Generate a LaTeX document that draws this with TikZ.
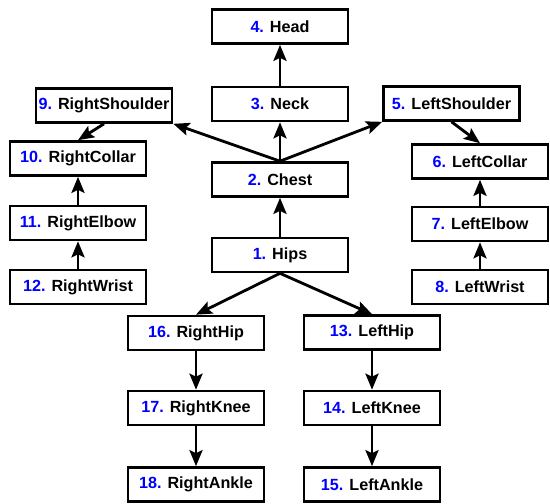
\documentclass[tikz,border=0pt]{standalone}
\usepackage{fontspec}
\setmainfont{Liberation Sans}
\usetikzlibrary{arrows.meta}
\newcommand{\jnum}[1]{\textcolor{blue}{#1}}

\begin{document}
\begin{tikzpicture}%
        \tikzstyle{joint}=[draw=black, line width=1.5pt, minimum width=2.72cm, minimum height=0.68cm, inner sep=0pt, font=\fontsize{9.2}{11}\selectfont\bfseries];%
        \tikzstyle{link}=[-{Stealth[length=0.32cm, width=0.26cm, inset=0.06cm]}, line width=1.6pt];%
        \useasboundingbox (0, 0) rectangle (11, -10.08);

        \node (head) at (5.60, -0.53) [joint] {\jnum{4.} Head};
        \node (neck) at (5.60, -2.08) [joint] {\jnum{3.} Neck};
        \node (chest) at (5.60, -3.59) [joint] {\jnum{2.} Chest};
        \node (hips) at (5.60, -5.10) [joint] {\jnum{1.} Hips};

        \node (rshoulder) at (2.08, -2.11) [joint] {\jnum{9.} RightShoulder};
        \node (rcollar) at (1.56, -3.17) [joint] {\jnum{10.} RightCollar};
        \node (relbow) at (1.56, -4.46) [joint] {\jnum{11.} RightElbow};
        \node (rwrist) at (1.56, -5.74) [joint] {\jnum{12.} RightWrist};

        \node (lshoulder) at (9.03, -2.07) [joint] {\jnum{5.} LeftShoulder};
        \node (lcollar) at (9.60, -3.23) [joint] {\jnum{6.} LeftCollar};
        \node (lelbow) at (9.60, -4.48) [joint] {\jnum{7.} LeftElbow};
        \node (lwrist) at (9.60, -5.74) [joint] {\jnum{8.} LeftWrist};

        \node (rhip) at (3.92, -6.66) [joint] {\jnum{16.} RightHip};
        \node (rknee) at (3.92, -8.16) [joint] {\jnum{17.} RightKnee};
        \node (rankle) at (3.92, -9.69) [joint] {\jnum{18.} RightAnkle};

        \node (lhip) at (7.44, -6.65) [joint] {\jnum{13.} LeftHip};
        \node (lknee) at (7.44, -8.16) [joint] {\jnum{14.} LeftKnee};
        \node (lankle) at (7.44, -9.69) [joint] {\jnum{15.} LeftAnkle};

        \draw (neck.north) edge[link] (head.south);
        \draw (chest.north) edge[link] (neck.south);
        \draw (chest.north) edge[link] (rshoulder.south east);
        \draw (chest.north) edge[link] (lshoulder.south west);
        \draw (hips.north) edge[link] (chest.south);

        \draw (rshoulder.south) edge[link] (rcollar.north);
        \draw (relbow.north) edge[link] (rcollar.south);
        \draw (rwrist.north) edge[link] (relbow.south);

        \draw (lshoulder.south) edge[link] (lcollar.north);
        \draw (lelbow.north) edge[link] (lcollar.south);
        \draw (lwrist.north) edge[link] (lelbow.south);

        \draw (hips.south) edge[link] (rhip.north);
        \draw (rhip.south) edge[link] (rknee.north);
        \draw (rknee.south) edge[link] (rankle.north);

        \draw (hips.south) edge[link] (lhip.north);
        \draw (lhip.south) edge[link] (lknee.north);
        \draw (lknee.south) edge[link] (lankle.north);
    \end{tikzpicture}
\end{document}
